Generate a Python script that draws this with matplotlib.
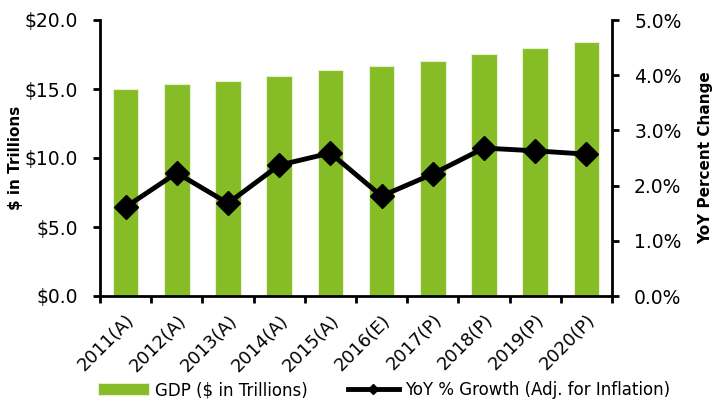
import numpy as np
import matplotlib.pyplot as plt
from matplotlib.ticker import FuncFormatter

years = ['2011(A)', '2012(A)', '2013(A)', '2014(A)', '2015(A)',
         '2016(E)', '2017(P)', '2018(P)', '2019(P)', '2020(P)']
gdp = [15.0, 15.36, 15.58, 15.94, 16.38, 16.67, 17.03, 17.51, 17.95, 18.41]
growth = [1.61, 2.23, 1.68, 2.37, 2.59, 1.81, 2.21, 2.68, 2.63, 2.57]

plt.rcParams['font.family'] = ['DejaVu Sans']

fig = plt.figure(figsize=(7.14, 4.0), dpi=100)
ax = fig.add_axes([0.14, 0.26, 0.717, 0.69])
x = np.arange(len(years))
bars = ax.bar(x, gdp, width=0.5, color='#86BC25', edgecolor='#E6F2CF', linewidth=0.8,
              label='GDP ($ in Trillions)', zorder=2)
ax.set_xlim(-0.5, len(years) - 0.5)
ax.set_ylim(0, 20)
ax.set_yticks([0, 5, 10, 15, 20])
ax.yaxis.set_major_formatter(FuncFormatter(lambda v, p: '$%.1f' % v))
ax.set_xticks(np.arange(-0.5, len(years), 1.0))
ax.set_xticklabels([])
ax.set_xticks(x, minor=True)
ax.set_xticklabels(years, minor=True, rotation=45, ha='right', rotation_mode='anchor', fontsize=13)
ax.tick_params(axis='x', which='minor', length=0, pad=11)
ax.tick_params(axis='x', which='major', length=5, width=2)
ax.tick_params(axis='y', length=5, width=2, labelsize=13.5, pad=11)
ax.set_ylabel('$ in Trillions', fontweight='bold', fontsize=11, labelpad=1)
for s in ['top', 'right']:
    ax.spines[s].set_visible(False)
ax.spines['left'].set_linewidth(2)
ax.spines['bottom'].set_linewidth(2)

ax2 = ax.twinx()
line, = ax2.plot(x, growth, color='black', linewidth=3.5, marker='D', markersize=12,
                 label='YoY % Growth (Adj. for Inflation)', zorder=3)
ax2.set_ylim(0, 5)
ax2.set_yticks([0, 1, 2, 3, 4, 5])
ax2.yaxis.set_major_formatter(FuncFormatter(lambda v, p: '%.1f%%' % v))
ax2.tick_params(axis='y', length=5, width=2, labelsize=13.5, pad=11)
ax2.set_ylabel('YoY Percent Change', fontweight='bold', fontsize=11, labelpad=12)
for s in ['top', 'left', 'bottom']:
    ax2.spines[s].set_visible(False)
ax2.spines['right'].set_linewidth(2)

fig.legend(handles=[bars, line], loc='lower center', bbox_to_anchor=(0.538, -0.035), ncol=2,
           frameon=False, fontsize=12, handlelength=3.05, handletextpad=0.36,
           columnspacing=2.4, markerscale=0.45)

fig.savefig('out.png', dpi=100)
